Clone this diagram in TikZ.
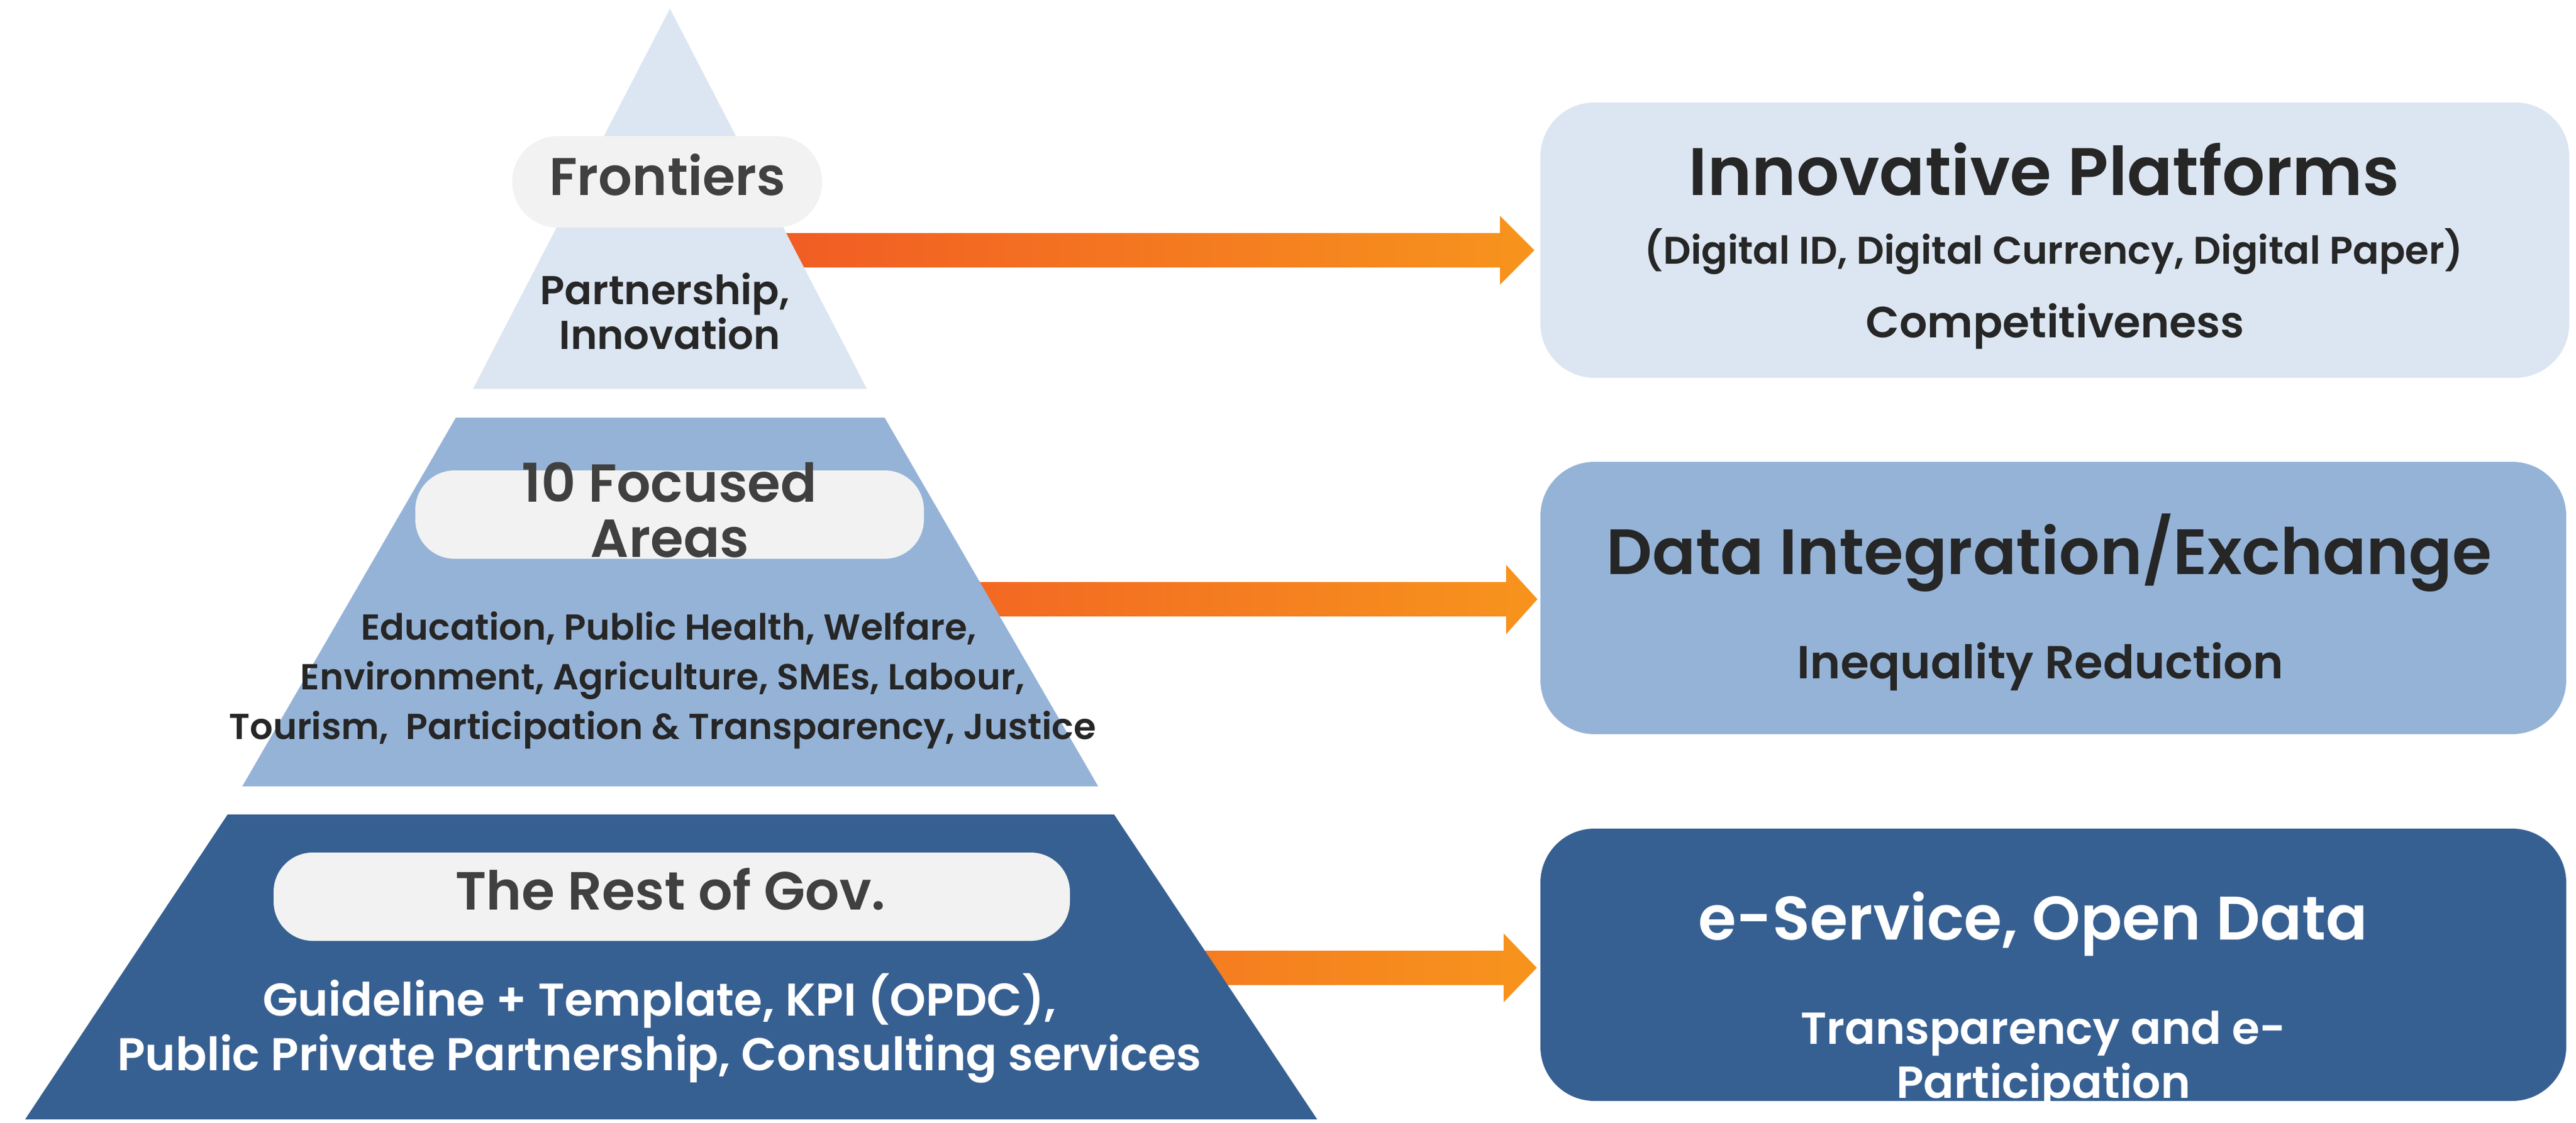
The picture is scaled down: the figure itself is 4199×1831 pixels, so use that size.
\documentclass[tikz,border=0pt]{standalone}
\usepackage{fontspec}
\setmainfont{Poppins}[UprightFont={* SemiBold}, BoldFont={* Bold}]
\definecolor{lb}{HTML}{DCE6F2}
\definecolor{mb}{HTML}{95B3D7}
\definecolor{db}{HTML}{376092}
\definecolor{pillc}{HTML}{F2F2F2}
\definecolor{ptxt}{HTML}{404040}
\definecolor{dtxt}{HTML}{262626}
\definecolor{orR}{HTML}{F15A24}
\definecolor{orY}{HTML}{F7941D}
\newcommand{\fs}[1]{\fontsize{#1}{#1}\selectfont}
\tikzset{
  pillbox/.style={fill=pillc, draw=none, inner sep=0pt, rounded corners=#1},
  rbox/.style={draw=none, inner sep=0pt, rounded corners=22pt},
  txt/.style={inner sep=0pt, anchor=base, text=dtxt},
  ptext/.style={inner sep=0pt, anchor=base, text=ptxt},
  arrowshade/.style={left color=#1, right color=orY, draw=none},
}
\begin{document}
\begin{tikzpicture}[x=0.25pt, y=-0.25pt]
\useasboundingbox (0,0) rectangle (4199,1831);

% right boxes
\node[rbox, fill=lb, minimum width=419.25pt, minimum height=112.25pt] (box1) at (3349.5,391.5) {};
\node[rbox, fill=mb, minimum width=418pt, minimum height=111pt] (box2) at (3347,975) {};
\node[rbox, fill=db, minimum width=418pt, minimum height=111pt] (box3) at (3347,1573) {};

% arrows (drawn before pyramid so the tiers cover their tails)
\coordinate (a1s) at (1230,408);
\coordinate (a2s) at (1540,977);
\coordinate (a3s) at (1900,1578);
\shade[arrowshade=orR] (a1s) ++(0,-28) -- (2445,380) -- (2445,352) -- (2501,408) -- (2445,464) -- (2445,436) -- (1230,436) -- cycle;
\shade[arrowshade=orR!80!orY] (a2s) ++(0,-28) -- (2455,949) -- (2455,921) -- (2506,977) -- (2455,1034) -- (2455,1005) -- (1540,1005) -- cycle;
\shade[arrowshade=orR!45!orY] (a3s) ++(0,-28) -- (2451,1550) -- (2451,1522) -- (2505,1578) -- (2451,1634) -- (2451,1606) -- (1900,1606) -- cycle;

% pyramid tiers
\fill[lb] (1092,14) -- (1413,634) -- (771,634) -- cycle;
\fill[mb] (743,681) -- (1442,681) -- (1790,1282) -- (395,1282) -- cycle;
\fill[db] (371,1328) -- (1816,1328) -- (2147,1825) -- (41,1825) -- cycle;

% pills
\node[pillbox=18.5pt, minimum width=126.25pt, minimum height=37.25pt] (pill1) at (1087.5,296.5) {};
\node[pillbox=16pt, minimum width=207.25pt, minimum height=36pt] (pill2) at (1091.5,839) {};
\node[pillbox=16pt, minimum width=324.5pt, minimum height=36pt] (pill3) at (1095,1462) {};

% pyramid texts
\node[ptext, font=\fs{21.6}] (frt) at (1088,318) {Frontiers};
\node[txt, font=\fs{16.45}] (pa1) at (1084,496) {Partnership,};
\node[txt, font=\fs{16.45}] (pa2) at (1092,569) {Innovation};

\node[ptext, font=\fs{21.8}] (foc1) at (1091,818) {10 Focused};
\node[ptext, font=\fs{21.8}] (foc2) at (1092,908) {Areas};
\node[txt, font=\fs{14.75}] (ar1) at (1090,1043) {Education, Public Health, Welfare,};
\node[txt, font=\fs{14.75}] (ar2) at (1080,1124) {Environment, Agriculture, SMEs, Labour,};
\node[txt, font=\fs{14.75}] (ar3) at (1080,1205) {Tourism,\ \ Participation \& Transparency, Justice};

\node[ptext, font=\fs{21.9}] (rest) at (1093,1483) {The Rest of Gov.};
\node[txt, text=white, font=\fs{18.75}] (rg1) at (1075,1656) {Guideline + Template, KPI (OPDC),};
\node[txt, text=white, font=\fs{18.75}] (rg2) at (1075,1745) {Public Private Partnership, Consulting services};

% box texts
\node[txt, font=\fs{27.4}] (b1t) at (3332,318) {Innovative Platforms};
\node[txt, font=\fs{15.7}] (b1s) at (3348,430) {(Digital ID, Digital Currency, Digital Paper)};
\node[txt, font=\fs{17.8}] (b1c) at (3350,550) {Competitiveness};

\node[txt, font=\fs{26.1}] (b2t) at (3340,936) {Data Integration/Exchange};
\node[txt, font=\fs{18.85}] (b2s) at (3326,1106) {Inequality Reduction};

\node[txt, text=white, font=\fs{25.1}] (b3t) at (3314,1532) {e-Service, Open Data};
\node[txt, text=white, font=\fs{18.3}] (b3s) at (3331,1702) {Transparency and e-};
\node[txt, text=white, font=\fs{18.3}] (b3u) at (3331,1790) {Participation};
\end{tikzpicture}
\end{document}
